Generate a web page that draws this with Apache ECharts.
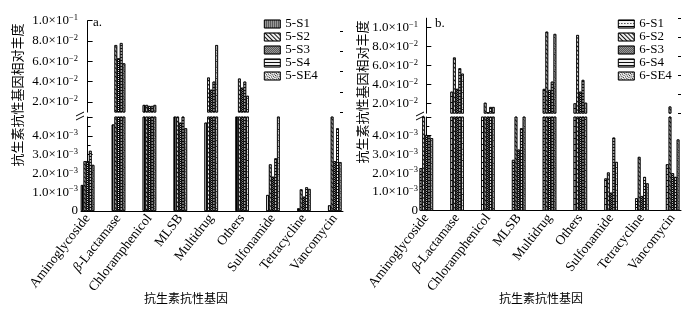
<!DOCTYPE html>
<html><head><meta charset="utf-8">
<script src="https://cdn.jsdelivr.net/npm/echarts@6/dist/echarts.min.js"></script>
<style>html,body{margin:0;padding:0;background:#fff}#c{width:700px;height:314px}</style>
</head><body><div id="c"></div>
<script>
// ---- data ----
const categories = ['Aminoglycoside','β-Lactamase','Chloramphenicol','MLSB','Multidrug','Others','Sulfonamide','Tetracycline','Vancomycin'];
const namesA = ['5-S1','5-S2','5-S3','5-S4','5-SE4'];
const namesB = ['6-S1','6-S2','6-S3','6-S4','6-SE4'];
// panel a values
const a_S1  = [0.00138, 0.0046, 0.017, 0.007, 0.0047, 0.007, 0.00085, 0.00014, 0.0003];
const a_S2  = [0.00265, 0.076, 0.017, 0.007, 0.044, 0.043, 0.00248, 0.00115, 0.007];
const a_S3  = [0.00265, 0.063, 0.016, 0.0047, 0.032, 0.034, 0.00182, 0.00076, 0.00265];
const a_S4  = [0.0032, 0.078, 0.016, 0.008, 0.040, 0.040, 0.0028, 0.00126, 0.0044];
const a_SE4 = [0.00245, 0.058, 0.017, 0.0044, 0.076, 0.026, 0.007, 0.00117, 0.0026];
// panel b values
const b_S1  = [0.00227, 0.0326, 0.009, 0.00271, 0.0355, 0.0204, 0.00172, 0.00066, 0.00248];
const b_S2  = [0.008, 0.0686, 0.021, 0.008, 0.0958, 0.0923, 0.00204, 0.00287, 0.017];
const b_S3  = [0.00404, 0.0356, 0.011, 0.00326, 0.0344, 0.0326, 0.00096, 0.00078, 0.0020];
const b_S4  = [0.0040, 0.0573, 0.0165, 0.0044, 0.0432, 0.045, 0.0039, 0.0018, 0.0018];
const b_SE4 = [0.00387, 0.0516, 0.0165, 0.008, 0.0934, 0.021, 0.0026, 0.00146, 0.0038];
// axis ticks
const lowerMax = 0.005;
const upperMinA = 0.01, upperMaxA = 0.1;
const upperMinB = 0.01, upperMaxB = 0.11;
const upperMajor = [0.02, 0.04, 0.06, 0.08, 0.1];
const upperMinorA = [0.01, 0.03, 0.05, 0.07, 0.09];
const upperMinorB = [0.01, 0.03, 0.05, 0.07, 0.09, 0.11];
const catIdx = [0,1,2,3,4,5,6,7,8];

const SERIF = 'Liberation Serif';
const CJK = 'Noto Sans CJK SC';

function sciLabel(v){
  if (Math.abs(v) < 1e-12) return '{m|0}';
  const e = Math.floor(Math.log10(v) + 1e-9);
  const m = v / Math.pow(10, e);
  return '{m|' + m.toFixed(1) + '×10}{s|−' + (-e) + '}';
}
const richY = {
  m: {fontFamily: SERIF, fontSize: 13, color: '#000', lineHeight: 15},
  s: {fontFamily: SERIF, fontSize: 8.5, color: '#000', verticalAlign: 'top', lineHeight: 15}
};

const decalsA = [
  {symbol:'rect', symbolSize:1, dashArrayX:[1,1], dashArrayY:[4,0], color:'#000'},
  {symbol:'rect', symbolSize:1, dashArrayX:[1,1.5], dashArrayY:[5,0], rotation:-Math.PI/4, color:'#111'},
  {symbol:'rect', symbolSize:1, dashArrayX:[[1,1],[0,1,1,0]], dashArrayY:[1,0], color:'#000'},
  {symbol:'rect', symbolSize:1, dashArrayX:[5,0], dashArrayY:[1,2], color:'#111'},
  {symbol:'rect', symbolSize:1, dashArrayX:[[1,1],[0,1,1,0]], dashArrayY:[1,1], rotation:Math.PI/4, color:'#111'}
];
const decalsB = [
  {symbol:'rect', symbolSize:1, dashArrayX:[[1,1.5],[3,0]], dashArrayY:[1,1.5], color:'#000'},
  decalsA[1], decalsA[2], decalsA[3], decalsA[4]
];

// layout
const P = {
  a: {left: 81, width: 262, upTop: 20.7, upH: 91.4, loTop: 117, loH: 94, xmin: -0.214, xmax: 8.265, umin: upperMinA, umax: upperMaxA, minor: upperMinorA},
  b: {left: 421, width: 260, upTop: 18.2, upH: 95, loTop: 117, loH: 93.7, xmin: -0.172, xmax: 8.27, umin: upperMinB, umax: upperMaxB, minor: upperMinorB}
};

const grid = [], xAxis = [], yAxis = [], series = [];
function catLabel(v){
  const i = Math.round(v);
  if (Math.abs(v - i) > 1e-6 || i < 0 || i > 8) return '';
  if (i === 1) return '{i|β}-Lactamase';
  return categories[i];
}
function addPanel(p, names, sets, decals){
  const gUp = grid.length;
  grid.push({left: p.left, top: p.upTop, width: p.width, height: p.upH});
  const gLo = grid.length;
  grid.push({left: p.left, top: p.loTop, width: p.width, height: p.loH});
  const xUp = xAxis.length;
  xAxis.push({type:'value', gridIndex: gUp, min: p.xmin, max: p.xmax, show: false});
  const xLo = xAxis.length;
  xAxis.push({type:'value', gridIndex: gLo, min: p.xmin, max: p.xmax,
    axisLine:{show:true, onZero:false, lineStyle:{color:'#000', width:1}},
    axisTick:{show:false}, splitLine:{show:false},
    axisLabel:{customValues: catIdx, formatter: catLabel, rotate: 52, margin: 5,
      fontFamily: SERIF, fontSize: 13.5, color:'#000',
      rich:{i:{fontFamily: SERIF, fontStyle:'italic', fontSize:13.5, color:'#000'}}}
  });
  const yUp = yAxis.length;
  yAxis.push({type:'value', gridIndex: gUp, min: p.umin, max: p.umax,
    axisLine:{show:true, lineStyle:{color:'#000', width:1}},
    axisTick:{show:true, inside:true, length:5, customValues: upperMajor, lineStyle:{color:'#000'}},
    axisLabel:{customValues: upperMajor, formatter: sciLabel, rich: richY, margin: 3},
    splitLine:{show:false}});
  yAxis.push({type:'value', gridIndex: gUp, min: p.umin, max: p.umax,
    axisLine:{show:false},
    axisTick:{show:true, inside:true, length:3, customValues: p.minor, lineStyle:{color:'#000'}},
    axisLabel:{show:false}, splitLine:{show:false}});
  const yLo = yAxis.length;
  yAxis.push({type:'value', gridIndex: gLo, min: 0, max: lowerMax, interval: 0.001,
    axisLine:{show:true, lineStyle:{color:'#000', width:1}},
    axisTick:{show:true, inside:true, length:5, lineStyle:{color:'#000'}},
    minorTick:{show:true, splitNumber:2, length:3, lineStyle:{color:'#000'}},
    axisLabel:{formatter: v => (v > 0.0045 ? '' : sciLabel(v)), rich: richY, margin: 3, showMaxLabel:false},
    splitLine:{show:false}, minorSplitLine:{show:false}});
  names.forEach((n, k) => {
    const style = {color:'#f2f2f2', borderColor:'#000', borderWidth:0.7, decal: decals[k]};
    series.push({type:'bar', name:n, xAxisIndex:xUp, yAxisIndex:yUp, barWidth:2.7, barGap:'0%',
      itemStyle: style, emphasis:{disabled:true}, clip:true,
      data: sets[k].map((v,i) => [i, v > p.umin ? v : '-'])});
    series.push({type:'bar', name:n, xAxisIndex:xLo, yAxisIndex:yLo, barWidth:2.7, barGap:'0%',
      itemStyle: style, emphasis:{disabled:true}, clip:true,
      data: sets[k].map((v,i) => [i, v])});
  });
}
addPanel(P.a, namesA, [a_S1, a_S2, a_S3, a_S4, a_SE4], decalsA);
addPanel(P.b, namesB, [b_S1, b_S2, b_S3, b_S4, b_SE4], decalsB);

function legend(names, left){
  return {data: names, orient:'vertical', left: left, top: 17.5, itemWidth: 16, itemHeight: 8, itemGap: 0,
    icon:'rect', textStyle:{fontFamily: SERIF, fontSize: 13, color:'#000', lineHeight: 11.3}, padding: 0,
    itemStyle:{borderColor:'#000', borderWidth:0.7}};
}
function breakMark(x){
  return [
    {type:'line', shape:{x1:x-5, y1:116, x2:x+3, y2:112}, style:{stroke:'#000', lineWidth:1}},
    {type:'line', shape:{x1:x-5, y1:120, x2:x+3, y2:116}, style:{stroke:'#000', lineWidth:1}}
  ];
}
const graphic = [].concat(
  breakMark(81), breakMark(421),
  [
    {type:'text', x:93, y:16, style:{text:'a.', font:'13px "'+SERIF+'"', fill:'#000'}},
    {type:'text', x:435, y:17, style:{text:'b.', font:'13px "'+SERIF+'"', fill:'#000'}},
    {type:'text', x:11, y:95, rotation: Math.PI/2, style:{text:'抗生素抗性基因相对丰度', font:'13px "'+CJK+'"', fill:'#000', align:'center', verticalAlign:'top'}},
    {type:'text', x:356, y:92, rotation: Math.PI/2, style:{text:'抗生素抗性基因相对丰度', font:'13px "'+CJK+'"', fill:'#000', align:'center', verticalAlign:'top'}},
    {type:'text', x:186, y:298, style:{text:'抗生素抗性基因', font:'12px "'+CJK+'"', fill:'#000', align:'center', verticalAlign:'middle'}},
    {type:'text', x:541, y:298, style:{text:'抗生素抗性基因', font:'12px "'+CJK+'"', fill:'#000', align:'center', verticalAlign:'middle'}}
  ]);

const chart = echarts.init(document.getElementById('c'), null, {renderer:'canvas'});
chart.setOption({
  animation:false,
  backgroundColor:'#fff',
  grid, xAxis, yAxis, series,
  legend:[legend(namesA, 264), legend(namesB, 618)],
  graphic
});
</script></body></html>
